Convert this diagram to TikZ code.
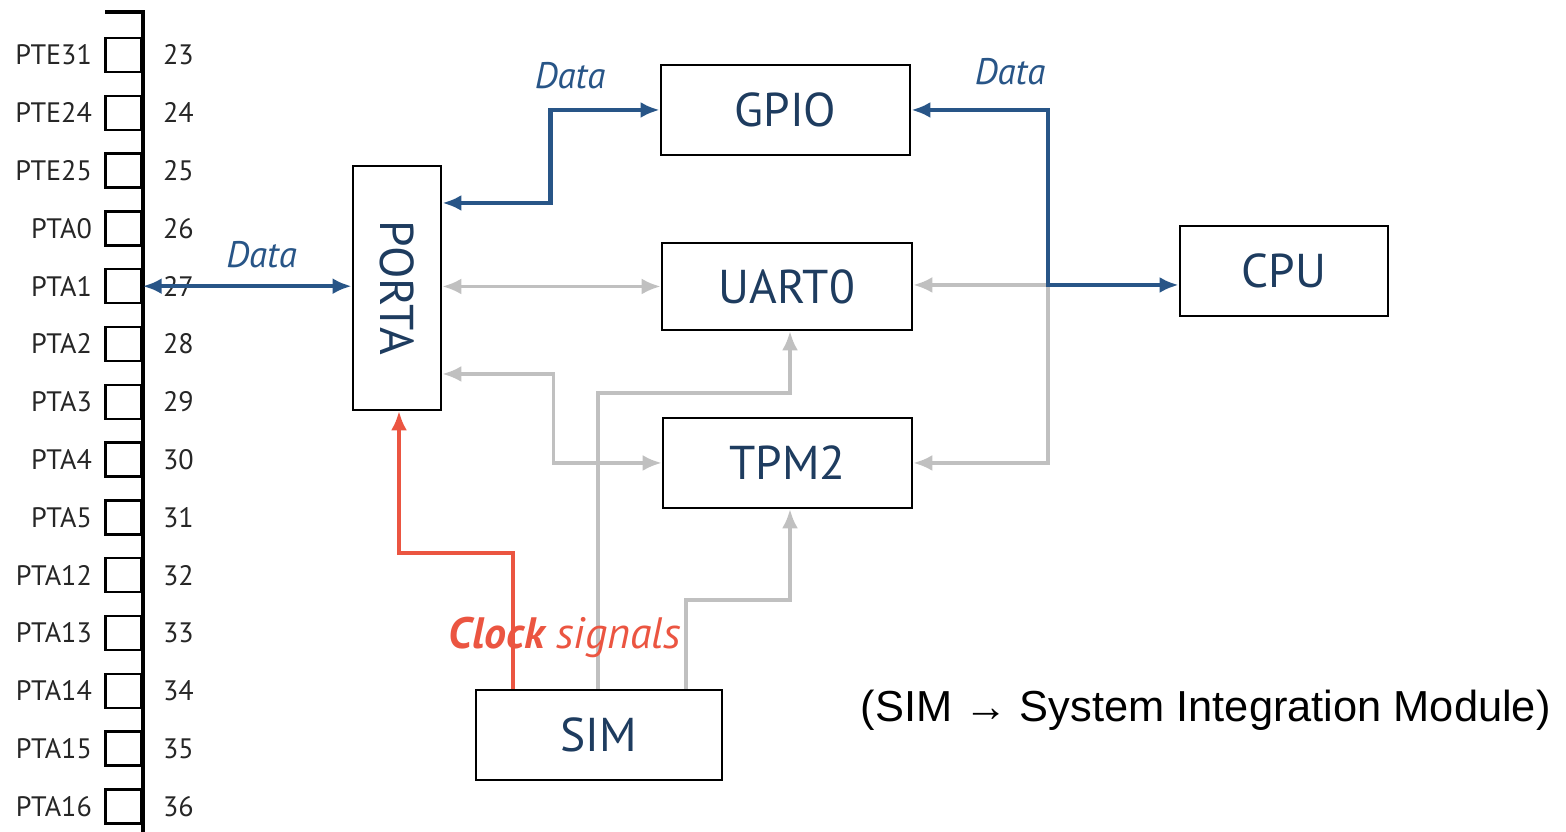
\documentclass[tikz,border=0pt]{standalone}
\usepackage{graphicx}
\usepackage{fontspec}
\setmainfont{PT Sans}
\newfontfamily\notefont{Liberation Sans}
\usetikzlibrary{arrows.meta}
\definecolor{boxtext}{RGB}{30,60,95}
\definecolor{datablue}{RGB}{40,85,135}
\definecolor{ctrlgray}{RGB}{192,192,192}
\definecolor{clkred}{RGB}{235,85,65}
\begin{document}
\begin{tikzpicture}[>={Latex[length=0.19cm,width=0.16cm]},
    block/.style={draw, line width=0.8pt, text=boxtext, font=\fontsize{13.5}{15}\selectfont},
    pinbox/.style={draw, line width=0.7pt, minimum width=0.36cm, minimum height=0.34cm, inner sep=0pt, label distance=0pt},
    pinname/.style={font=\fontsize{8}{9}\selectfont, text=black!85},
    pinnum/.style={font=\fontsize{8}{9}\selectfont, text=black!85, xshift=0.08cm},
    datalink/.style={datablue, line width=1.2pt},
    ctrl/.style={ctrlgray, line width=0.9pt},
    clk/.style={clkred, line width=0.9pt},
    datalabel/.style={text=datablue, font=\itshape\fontsize{10.5}{12}\selectfont}]
    \useasboundingbox (0,0) rectangle (15.66,8.32);

    % pin header
    \draw[line width=1.1pt] (1.05,8.20) -- (1.43,8.20) -- (1.43,0);
    \node[pinbox, label={[pinname]left:PTE31}, label={[pinnum]right:23}] (pte31) at (1.235,7.770) {};
    \node[pinbox, label={[pinname]left:PTE24}, label={[pinnum]right:24}] (pte24) at (1.235,7.192) {};
    \node[pinbox, label={[pinname]left:PTE25}, label={[pinnum]right:25}] (pte25) at (1.235,6.614) {};
    \node[pinbox, label={[pinname]left:PTA0}, label={[pinnum]right:26}] (pta0) at (1.235,6.036) {};
    \node[pinbox, label={[pinname]left:PTA1}, label={[pinnum]right:27}] (pta1) at (1.235,5.458) {};
    \node[pinbox, label={[pinname]left:PTA2}, label={[pinnum]right:28}] (pta2) at (1.235,4.880) {};
    \node[pinbox, label={[pinname]left:PTA3}, label={[pinnum]right:29}] (pta3) at (1.235,4.302) {};
    \node[pinbox, label={[pinname]left:PTA4}, label={[pinnum]right:30}] (pta4) at (1.235,3.724) {};
    \node[pinbox, label={[pinname]left:PTA5}, label={[pinnum]right:31}] (pta5) at (1.235,3.146) {};
    \node[pinbox, label={[pinname]left:PTA12}, label={[pinnum]right:32}] (pta12) at (1.235,2.568) {};
    \node[pinbox, label={[pinname]left:PTA13}, label={[pinnum]right:33}] (pta13) at (1.235,1.990) {};
    \node[pinbox, label={[pinname]left:PTA14}, label={[pinnum]right:34}] (pta14) at (1.235,1.412) {};
    \node[pinbox, label={[pinname]left:PTA15}, label={[pinnum]right:35}] (pta15) at (1.235,0.834) {};
    \node[pinbox, label={[pinname]left:PTA16}, label={[pinnum]right:36}] (pta16) at (1.235,0.256) {};

    % blocks
    \node[block, minimum width=0.88cm, minimum height=2.44cm] (porta) at (3.97,5.44) {\rotatebox{-90}{PORTA}};
    \node[block, minimum width=2.49cm, minimum height=0.90cm] (gpio) at (7.855,7.22) {GPIO};
    \node[block, minimum width=2.50cm, minimum height=0.87cm] (uart) at (7.87,5.455) {UART0};
    \node[block, minimum width=2.49cm, minimum height=0.90cm] (tpm) at (7.875,3.69) {TPM2};
    \node[block, minimum width=2.08cm, minimum height=0.90cm] (cpu) at (12.84,5.61) {CPU};
    \node[block, minimum width=2.46cm, minimum height=0.90cm] (sim) at (5.99,0.97) {SIM};

    \coordinate (junction) at (10.48,5.47);
    \coordinate (uartturn) at (7.90,4.39);
    \coordinate (tpmturn) at (7.90,2.32);
    \coordinate (clkturn) at (3.99,2.79);

    % control and clock lines
    \draw[ctrl,<->] (porta.east |- uart.west) -- (uart.west);
    \draw[ctrl,<->] ([yshift=-0.86cm]porta.east) -- ++(1.11,0) |- (tpm.west);
    \draw[ctrl,->] (junction) -- (junction -| uart.east);
    \draw[ctrl,->] (junction) |- (tpm.east);
    \draw[ctrl,->] ([xshift=-0.01cm]sim.north) |- (uartturn) -- (uartturn |- uart.south);
    \draw[ctrl,->] ([xshift=0.87cm]sim.north) |- (tpmturn) -- (tpmturn |- tpm.south);
    \draw[clk,->] ([xshift=-0.86cm]sim.north) |- (clkturn) -- (clkturn |- porta.south);

    % data buses
    \draw[datalink,<->] (pta1.east) -- (pta1.east -| porta.west);
    \draw[datalink,<->] ([yshift=0.85cm]porta.east) -- ++(1.08,0) |- (gpio.west);
    \draw[datalink,<->] (gpio.east) -| (junction) -- (junction -| cpu.west);

    % labels
    \node[datalabel] (dataa) at (2.615,5.77) {Data};
    \node[datalabel] (datab) at (5.70,7.56) {Data};
    \node[datalabel] (datac) at (10.10,7.60) {Data};
    \node[text=clkred, font=\itshape\fontsize{12.5}{14}\selectfont] (clock) at (5.65,1.95) {\textbf{Clock} signals};
    \node[anchor=west, inner sep=0pt, font=\notefont\fontsize{12.35}{14}\selectfont] (note) at (8.60,1.22) {(SIM → System Integration Module)};
\end{tikzpicture}
\end{document}
